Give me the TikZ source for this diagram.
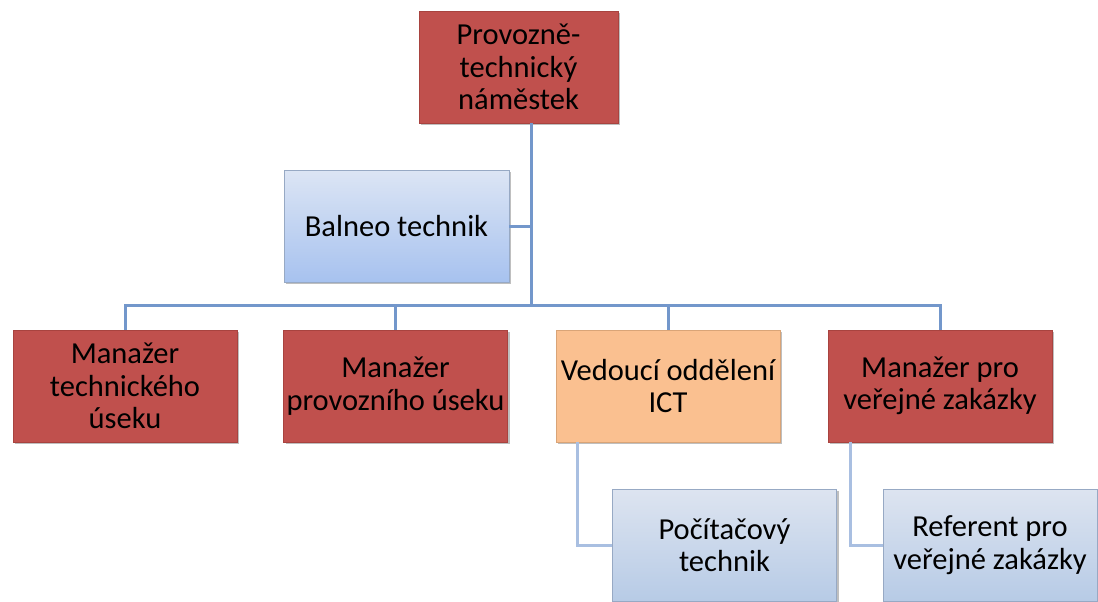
\documentclass[tikz,border=0pt]{standalone}
\usepackage{fontspec}
\setmainfont{Carlito}
\usetikzlibrary{shadows}
\definecolor{boxred}{HTML}{C0504D}
\definecolor{boxredline}{HTML}{A8433F}
\definecolor{boxorange}{HTML}{FAC090}
\definecolor{boxorangeline}{HTML}{D9A477}
\definecolor{balneotop}{HTML}{DCE5F4}
\definecolor{balneobot}{HTML}{A7C2EF}
\definecolor{lighttop}{HTML}{DDE4F0}
\definecolor{lightbot}{HTML}{B7CBE6}
\definecolor{blueline}{HTML}{97A9C4}
\definecolor{linedark}{HTML}{7397CB}
\definecolor{linelight}{HTML}{A9BFE1}
\tikzset{
  box/.style={rectangle, minimum width=224pt, minimum height=112pt, inner sep=0pt,
    align=center, text=black, font=\fontsize{30.5}{32.5}\selectfont, line width=0.6pt,
    drop shadow={shadow xshift=2pt, shadow yshift=-2pt, fill=black, opacity=0.25}},
  redbox/.style={box, fill=boxred, draw=boxredline},
  orangebox/.style={box, fill=boxorange, draw=boxorangeline},
  bluebox/.style={box, top color=balneotop, bottom color=balneobot, draw=blueline},
  lightbox/.style={box, top color=lighttop, bottom color=lightbot, draw=blueline},
  conn/.style={draw=linedark, line width=3pt},
  connlight/.style={draw=linelight, line width=3pt}
}
\begin{document}
\begin{tikzpicture}[x=1pt,y=-1pt]
\useasboundingbox[fill=white] (0,0) rectangle (1098,602);
\coordinate (trunk) at (531,305);
\node[redbox, minimum width=199pt] (top) at (518.5,67) {Provozně-\\technický\\náměstek};
\node[bluebox, minimum width=225pt] (balneo) at (396.5,226) {Balneo technik};
\node[redbox] (tech) at (125,386) {Manažer\\technického\\úseku};
\node[redbox] (prov) at (395.5,386) {Manažer\\provozního úseku};
\node[orangebox] (ict) at (668,386) {Vedoucí oddělení\\ICT};
\node[redbox] (verej) at (940,386) {Manažer pro\\veřejné zakázky};
\node[lightbox] (pc) at (724.5,545) {Počítačový\\technik};
\node[lightbox, minimum width=214pt] (ref) at (990,545) {Referent pro\\veřejné zakázky};
\draw[conn] (top.south -| trunk) -- (trunk);
\draw[conn] (balneo.east) -- (balneo.east -| trunk);
\draw[conn] (tech.north) |- (trunk) -| (verej.north);
\draw[conn] (prov.north) -- (prov.north |- trunk);
\draw[conn] (ict.north) -- (ict.north |- trunk);
\draw[connlight] ([xshift=22pt]ict.south west) |- (pc.west);
\draw[connlight] ([xshift=23pt]verej.south west) |- (ref.west);
\end{tikzpicture}
\end{document}
